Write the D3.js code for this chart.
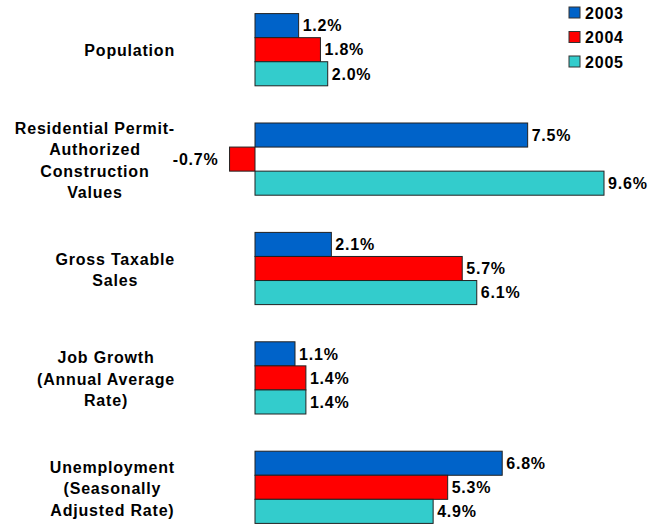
<!DOCTYPE html>
<html lang="en">
<head>
<meta charset="UTF-8">
<title>Indicators</title>
<script src="https://d3js.org/d3.v7.min.js"></script>
<style>
    body { margin: 0; background: #fff; }
    text { font-family: Arial, "Liberation Sans", sans-serif; font-weight: bold; fill: #000; letter-spacing: 0.8px; }
</style>
</head>
<body>
<svg id="chart" width="651" height="527"></svg>
<script>
    const categories = ["Population", "Residential Permit-Authorized Construction Values", "Gross Taxable Sales", "Job Growth (Annual Average Rate)", "Unemployment (Seasonally Adjusted Rate)"];
    const categoryLines = [
        ["Population"],
        ["Residential Permit-", "Authorized", "Construction", "Values"],
        ["Gross Taxable", "Sales"],
        ["Job Growth", "(Annual Average", "Rate)"],
        ["Unemployment", "(Seasonally", "Adjusted Rate)"]
    ];
    const years = ["2003", "2004", "2005"];
    const values2003 = [1.2, 7.5, 2.1, 1.1, 6.8];
    const values2004 = [1.8, -0.7, 5.7, 1.4, 5.3];
    const values2005 = [2.0, 9.6, 6.1, 1.4, 4.9];
    const colors = ["#0063C9", "#FF0000", "#33CCCC"];

    const svg = d3.select("#chart");
    const series = [values2003, values2004, values2005];

    // zero at ~255px, 9.6% reaches ~604px
    const x = d3.scaleLinear().domain([0, 9.6]).range([255, 604]);
    const y = d3.scaleBand().domain(categories).range([-5, 542]).paddingInner(0.34).paddingOuter(0.17);
    const ySub = d3.scaleBand().domain(years).range([0, y.bandwidth()]);
    const labelRight = 175;

    const groups = svg.selectAll("g.group")
        .data(categories)
        .enter().append("g")
        .attr("class", "group")
        .attr("transform", d => `translate(0,${y(d)})`);

    groups.each(function(cat, i) {
        const g = d3.select(this);
        years.forEach((yr, j) => {
            const v = series[j][i];
            const x0 = x(Math.min(0, v)), x1 = x(Math.max(0, v));
            g.append("rect")
                .attr("x", x0)
                .attr("y", ySub(yr))
                .attr("width", x1 - x0)
                .attr("height", ySub.bandwidth())
                .attr("fill", colors[j])
                .attr("stroke", "#222")
                .attr("stroke-width", 1);
            g.append("text")
                .attr("x", v < 0 ? x0 - 11 : x1 + 4)
                .attr("y", ySub(yr) + ySub.bandwidth() / 2)
                .attr("dy", "0.36em")
                .attr("text-anchor", v < 0 ? "end" : "start")
                .style("font-size", "16px")
                .text(v.toFixed(1) + "%");
        });

        // category label: lines centred on each other, block right-aligned
        const lines = categoryLines[i];
        const lh = 21.5;
        const cy = y.bandwidth() / 2 + 1;
        const label = g.append("text")
            .attr("text-anchor", "middle")
            .style("font-size", "16px");
        const spans = lines.map((ln, k) => label.append("tspan")
            .attr("y", cy + (k - (lines.length - 1) / 2) * lh)
            .attr("dy", "0.36em")
            .text(ln));
        const maxW = d3.max(spans, s => s.node().getComputedTextLength());
        spans.forEach(s => s.attr("x", labelRight - maxW / 2));
    });

    // legend
    const legend = svg.append("g").attr("transform", "translate(569,7)");
    years.forEach((yr, j) => {
        const lg = legend.append("g").attr("transform", `translate(0,${j * 24.5})`);
        lg.append("rect")
            .attr("width", 11).attr("height", 11)
            .attr("fill", colors[j])
            .attr("stroke", "#333");
        lg.append("text")
            .attr("x", 16).attr("y", 6)
            .attr("dy", "0.36em")
            .style("font-size", "16px")
            .text(yr);
    });
</script>
</body>
</html>
